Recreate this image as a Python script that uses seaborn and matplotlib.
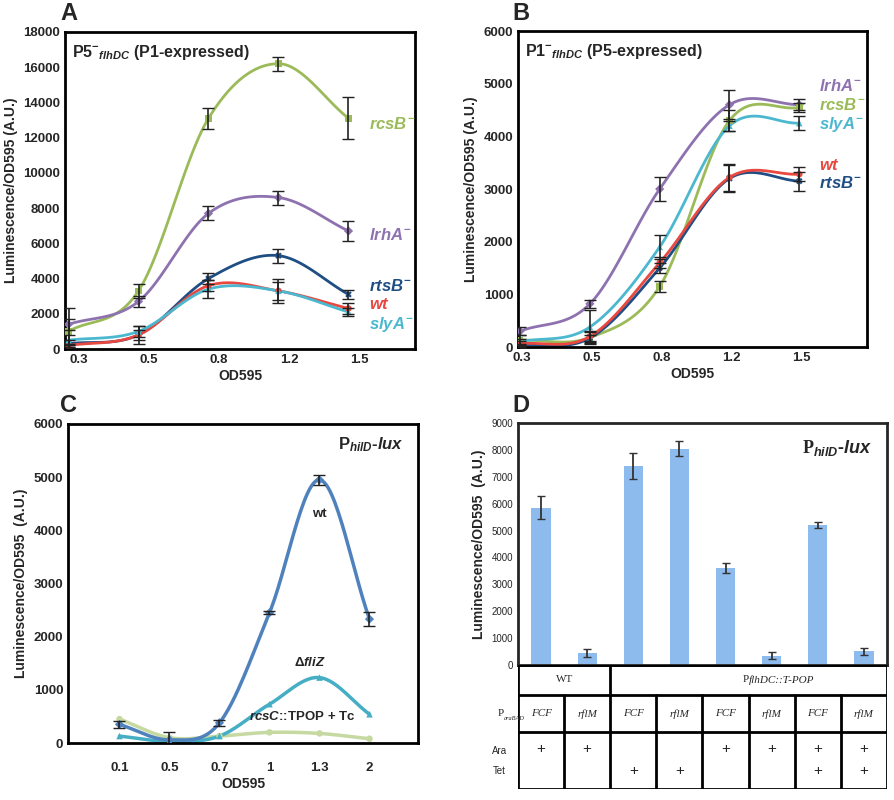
import numpy as np
import pandas as pd
import matplotlib
matplotlib.use('Agg')
import matplotlib.pyplot as plt
import seaborn as sns

# ---- data ----
a_ticks = ['0.3', '0.5', '0.8', '1.2', '1.5']
a_rcsB = [1000, 3300, 13100, 16200, 13100]
a_rcsB_err = [1300, 400, 600, 400, 1200]
a_lrhA = [1400, 2700, 7700, 8600, 6700]
a_lrhA_err = [300, 300, 400, 400, 550]
a_rtsB = [300, 800, 4000, 5300, 3100]
a_rtsB_err = [200, 300, 300, 400, 250]
a_wt = [200, 800, 3600, 3300, 2300]
a_wt_err = [100, 500, 300, 700, 300]
a_slyA = [500, 1000, 3400, 3300, 2100]
a_slyA_err = [300, 300, 500, 500, 200]

b_ticks = ['0.3', '0.5', '0.8', '1.2', '1.5']
b_lrhA = [300, 820, 3000, 4600, 4600]
b_lrhA_err = [80, 80, 220, 280, 100]
b_rcsB = [130, 180, 1150, 4300, 4550]
b_rcsB_err = [100, 100, 100, 200, 80]
b_slyA = [100, 380, 1900, 4200, 4250]
b_slyA_err = [60, 320, 220, 100, 130]
b_wt = [60, 200, 1600, 3220, 3280]
b_wt_err = [50, 100, 100, 250, 130]
b_rtsB = [30, 170, 1500, 3200, 3150]
b_rtsB_err = [30, 50, 100, 250, 180]

c_ticks = ['0.1', '0.5', '0.7', '1', '1.3', '2']
c_wt = [350, 60, 380, 2450, 4950, 2330]
c_wt_err = [60, 150, 60, 30, 100, 130]
c_fliZ = [130, 30, 130, 730, 1230, 540]
c_rcsC = [450, 100, 130, 200, 180, 80]

d_vals = [5850, 430, 7400, 8050, 3600, 350, 5200, 520]
d_err = [430, 150, 470, 280, 180, 120, 100, 130]
d_promoter = ['FCF', 'rflM', 'FCF', 'rflM', 'FCF', 'rflM', 'FCF', 'rflM']
d_ara = ['+', '+', '', '', '+', '+', '+', '+']
d_tet = ['', '', '+', '+', '', '', '+', '+']

C_GREEN = '#9bbb59'
C_PURPLE = '#8e72b0'
C_DBLUE = '#1f4e85'
C_RED = '#e8483f'
C_CYAN = '#4bb8d0'

sns.set_style('white')
plt.rcParams['font.family'] = ['Liberation Sans', 'DejaVu Sans']
plt.rcParams['mathtext.fontset'] = 'custom'
plt.rcParams['mathtext.rm'] = 'Liberation Sans:bold'
plt.rcParams['mathtext.it'] = 'Liberation Sans:bold:italic'
plt.rcParams['mathtext.bf'] = 'Liberation Sans:bold'

W, H = 895, 800
fig = plt.figure(figsize=(W / 100, H / 100), dpi=100)


def px_axes(l, t, r, b):
    return fig.add_axes([l / W, 1 - b / H, (r - l) / W, (b - t) / H])


def smooth(y, n=30):
    # Catmull-Rom style smoothing, like a spreadsheet "smoothed line"
    y = np.asarray(y, float)
    p = np.concatenate([[2 * y[0] - y[1]], y, [2 * y[-1] - y[-2]]])
    xs, ys = [], []
    for i in range(len(y) - 1):
        t = np.linspace(0, 1, n)
        p0, p1, p2, p3 = p[i], p[i + 1], p[i + 2], p[i + 3]
        ys.append(0.5 * (2 * p1 + (-p0 + p2) * t + (2 * p0 - 5 * p1 + 4 * p2 - p3) * t ** 2
                         + (-p0 + 3 * p1 - 3 * p2 + p3) * t ** 3))
        xs.append(i + t)
    return np.concatenate(xs), np.concatenate(ys)


def style_ax(ax, ylabel):
    for s in ax.spines.values():
        s.set_linewidth(2)
        s.set_color('black')
    ax.tick_params(labelsize=9.5, length=0)
    for lab in ax.get_xticklabels() + ax.get_yticklabels():
        lab.set_fontweight('bold')
    ax.set_xlabel('OD595', fontsize=10, fontweight='bold', labelpad=2)
    ax.set_ylabel(ylabel, fontsize=10, fontweight='bold')


def draw_series(ax, vals, errs, color, marker, lw=2):
    x = np.arange(len(vals))
    sx, sy = smooth(vals)
    sns.lineplot(x=sx, y=sy, ax=ax, color=color, lw=lw, sort=False)
    sns.scatterplot(x=x, y=vals, ax=ax, color=color, marker=marker, s=22,
                    edgecolor='none', zorder=3)
    if errs is not None:
        ax.errorbar(x, vals, yerr=errs, fmt='none', ecolor='#222222',
                    elinewidth=1.2, capsize=4, zorder=4)


ylab = 'Luminescence/OD595 (A.U.)'

# ---- Panel A ----
ax = px_axes(65, 32, 415, 349)
for v, e, c, m in [(a_rcsB, a_rcsB_err, C_GREEN, 's'), (a_lrhA, a_lrhA_err, C_PURPLE, 'D'),
                   (a_rtsB, a_rtsB_err, C_DBLUE, 'X'), (a_wt, a_wt_err, C_RED, 'o'),
                   (a_slyA, a_slyA_err, C_CYAN, '^')]:
    draw_series(ax, v, e, c, m)
ax.set_xlim(-0.05, 4.95)
ax.set_ylim(0, 18000)
ax.set_yticks(range(0, 18001, 2000))
ax.set_xticks(np.arange(5) + 0.15)
ax.set_xticklabels(a_ticks)
style_ax(ax, ylab)
ax.text(0.02, 0.965, r'P5$^{-}$$_{flhDC}$ (P1-expressed)', transform=ax.transAxes,
        fontsize=11.5, fontweight='bold', va='top')
for txt, yv, c in [(r'$rcsB^{-}$', 12800, C_GREEN), (r'$lrhA^{-}$', 6500, C_PURPLE),
                   (r'$rtsB^{-}$', 3600, C_DBLUE), (r'$wt$', 2500, C_RED),
                   (r'$slyA^{-}$', 1400, C_CYAN)]:
    ax.text(4.3, yv, txt, color=c, fontsize=12, va='center')

# ---- Panel B ----
ax = px_axes(518, 31, 867, 347)
for v, e, c, m in [(b_lrhA, b_lrhA_err, C_PURPLE, 'D'), (b_rcsB, b_rcsB_err, C_GREEN, 's'),
                   (b_slyA, b_slyA_err, C_CYAN, '^'), (b_rtsB, b_rtsB_err, C_DBLUE, 'X'),
                   (b_wt, b_wt_err, C_RED, 'o')]:
    draw_series(ax, v, e, c, m)
ax.set_xlim(-0.03, 4.97)
ax.set_ylim(0, 6000)
ax.set_yticks(range(0, 6001, 1000))
ax.set_xticks(np.arange(5) + 0.03)
ax.set_xticklabels(b_ticks)
style_ax(ax, ylab)
ax.text(0.02, 0.965, r'P1$^{-}$$_{flhDC}$ (P5-expressed)', transform=ax.transAxes,
        fontsize=11.5, fontweight='bold', va='top')
for txt, yv, c in [(r'$lrhA^{-}$', 4960, C_PURPLE), (r'$rcsB^{-}$', 4600, C_GREEN),
                   (r'$slyA^{-}$', 4230, C_CYAN), (r'$wt$', 3450, C_RED),
                   (r'$rtsB^{-}$', 3110, C_DBLUE)]:
    ax.text(4.28, yv, txt, color=c, fontsize=12, va='center')

# ---- Panel C ----
ax = px_axes(68, 424, 418, 743)
draw_series(ax, c_rcsC, None, '#c5d9a0', 'o', lw=2.5)
draw_series(ax, c_fliZ, None, '#45aec4', '^', lw=2.5)
draw_series(ax, c_wt, c_wt_err, '#4f82bd', 'D', lw=2.5)
ax.set_xlim(-1.03, 5.97)
ax.set_ylim(0, 6000)
ax.set_yticks(range(0, 6001, 1000))
ax.set_xticks(np.arange(6))
ax.set_xticklabels(c_ticks)
ax.tick_params(axis='x', pad=14)
style_ax(ax, 'Luminescence/OD595  (A.U.)')
ax.text(0.96, 0.965, r'P$_{hilD}$-$lux$', transform=ax.transAxes, fontsize=12,
        ha='right', va='top', fontweight='bold')
ax.text(4.0, 4250, 'wt', fontsize=9.5, fontweight='bold', ha='center')
ax.text(3.8, 1450, r'$\Delta$$fliZ$', fontsize=9.5, ha='center')
ax.text(3.65, 430, r'$rcsC$::TPOP + Tc', fontsize=9.5, ha='center', fontweight='bold')

# ---- Panel D ----
ax = px_axes(518, 423, 887, 665)
df = pd.DataFrame({'cond': [str(i) for i in range(8)], 'val': d_vals})
sns.barplot(data=df, x='cond', y='val', ax=ax, color='#8dbbee', width=0.42,
            saturation=1, edgecolor='none')
ax.errorbar(np.arange(8), d_vals, yerr=d_err, fmt='none', ecolor='#333333',
            elinewidth=1.3, capsize=3)
ax.set_xlim(-0.5, 7.5)
ax.set_ylim(0, 9000)
ax.set_yticks(range(0, 9001, 1000))
for s in ax.spines.values():
    s.set_linewidth(2)
ax.tick_params(labelsize=7, length=0)
ax.set_xticks([])
ax.set_xlabel('')
ax.set_ylabel('Luminescence/OD595  (A.U.)', fontsize=10, fontweight='bold')
ax.text(0.96, 0.94, r'P$_{hilD}$-$lux$', transform=ax.transAxes, fontsize=13,
        ha='right', va='top', family='Liberation Serif', fontweight='bold')

# table under the bars
tab = px_axes(518, 665, 887, 789)
tab.set_xlim(0, 8)
tab.set_ylim(0, 124)
tab.axis('off')
lk = dict(color='black', lw=2)
tab.plot([0, 8, 8, 0, 0], [0, 0, 124, 124, 0], **lk)
tab.plot([0, 8], [94, 94], **lk)
tab.plot([0, 8], [57, 57], **lk)
tab.plot([2, 2], [0, 124], **lk)
for i in [1, 3, 4, 5, 6, 7]:
    tab.plot([i, i], [0, 94], **lk)
serif = 'Liberation Serif'
tab.text(1, 109, 'WT', ha='center', va='center', fontsize=8, family=serif)
tab.text(5, 109, 'P', ha='right', va='center', fontsize=8, family=serif)
tab.text(5, 109, r'flhDC::T-POP', ha='left', va='center', fontsize=8, family=serif,
         style='italic')
for i in range(8):
    tab.text(i + 0.5, 75, d_promoter[i], ha='center', va='center', fontsize=8,
             family=serif, style='italic')
    tab.text(i + 0.5, 40, d_ara[i], ha='center', va='center', fontsize=11)
    tab.text(i + 0.5, 18, d_tet[i], ha='center', va='center', fontsize=11)
tab.text(-0.3, 75, 'P', ha='right', va='center', fontsize=8, family=serif, clip_on=False)
tab.text(-0.3, 73, 'araBAD', ha='left', va='top', fontsize=4.5, family=serif,
         style='italic', clip_on=False)
tab.text(-0.4, 38, 'Ara', ha='center', va='center', fontsize=7, clip_on=False)
tab.text(-0.4, 18, 'Tet', ha='center', va='center', fontsize=7, clip_on=False)

# panel letters
for lt, x, y in [('A', 60, 14), ('B', 512, 14), ('C', 60, 405), ('D', 512, 405)]:
    fig.text(x / W, 1 - y / H, lt, fontsize=17, fontweight='bold', va='center')

fig.savefig('out.png', dpi=100)
